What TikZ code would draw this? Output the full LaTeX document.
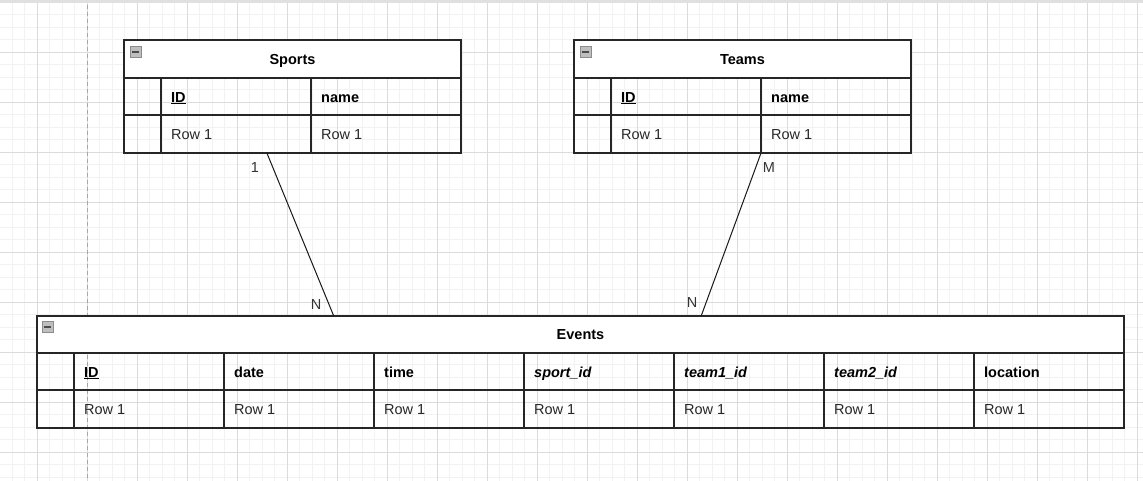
\documentclass[tikz,border=0pt]{standalone}
\usepackage{fontspec}
\setmainfont{Liberation Sans}
\usetikzlibrary{calc}
\usetikzlibrary{positioning}

\tikzset{
  grid minor/.style={draw=black!5, line width=0.8pt},
  grid major/.style={draw=black!14, line width=0.9pt},
  tbl/.style={draw=black!85, line width=1.2pt, inner sep=0pt,
              outer sep=0pt, anchor=north west},
  rule/.style={draw=black!85, line width=1.2pt},
  txt/.style={inner sep=0pt, text height=10.4pt, text depth=0pt,
              font=\fontsize{14.5}{17}\selectfont},
  title/.style={txt, font=\fontsize{14.5}{17}\selectfont\bfseries},
  field/.style={txt, anchor=west, font=\fontsize{14.5}{17}\selectfont\bfseries},
  fkey/.style={field, font=\fontsize{14.5}{17}\selectfont\bfseries\itshape},
  val/.style={txt, anchor=west, text=black!85},
  card/.style={txt, text=black!80},
  link/.style={draw=black!90, line width=1pt},
  collapse/.style={draw=black!45, fill=black!25, minimum size=11pt, inner sep=0pt,
    path picture={\draw[black!70, line width=1.4pt]
      ([xshift=2pt]path picture bounding box.west) --
      ([xshift=-2pt]path picture bounding box.east);}},
}

\begin{document}
\begin{tikzpicture}[x=1pt, y=-1pt]
  \useasboundingbox (0,0) rectangle (1143,481);

  % page grid
  \fill[white] (0,0) rectangle (1143,481);
  \foreach \x in {-0.5,12,...,1143} \draw[grid minor] (\x,0) -- (\x,481);
  \foreach \y in {2,14.5,...,481}   \draw[grid minor] (0,\y) -- (1143,\y);
  \foreach \x in {37,87,...,1137}   \draw[grid major] (\x,0) -- (\x,481);
  \foreach \y in {2,52,...,452}     \draw[grid major] (0,\y) -- (1143,\y);
  \draw[black!12, line width=3pt] (0,1.5) -- (1143,1.5);
  \draw[black!35, line width=0.9pt, dash pattern=on 4pt off 3pt] (87,5) -- (87,481);

  % Sports
  \fill[white] (124,40) rectangle (461,78);
  \node[tbl, minimum width=337pt, minimum height=113pt] (sports) at (124,40) {};
  \draw[rule] (124,78) -- ++(337,0)  (124,115) -- ++(337,0)
              (161,78) -- (161,153)  (311,78) -- (311,153);
  \node[collapse] (sports-min) at (135.5,52) {};
  \node[title] (sports-title) at (292.5,59) {Sports};
  \node[field] (sports-id)   at (171,97) {\underline{ID}};
  \node[field] (sports-name) at (321,97) {name};
  \node[val] (sports-v1) at (171,134) {Row 1};
  \node[val] (sports-v2) at (321,134) {Row 1};

  % Teams
  \fill[white] (574,40) rectangle (911,78);
  \node[tbl, minimum width=337pt, minimum height=113pt] (teams) at (574,40) {};
  \draw[rule] (574,78) -- ++(337,0)  (574,115) -- ++(337,0)
              (611,78) -- (611,153)  (761,78) -- (761,153);
  \node[collapse] (teams-min) at (585.5,52) {};
  \node[title] (teams-title) at (742.5,59) {Teams};
  \node[field] (teams-id)   at (621,97) {\underline{ID}};
  \node[field] (teams-name) at (771,97) {name};
  \node[val] (teams-v1) at (621,134) {Row 1};
  \node[val] (teams-v2) at (771,134) {Row 1};

  % Events
  \fill[white] (37,316) rectangle (1124,353);
  \node[tbl, minimum width=1087pt, minimum height=112pt] (events) at (37,316) {};
  \draw[rule] (37,353) -- ++(1087,0)  (37,390) -- ++(1087,0);
  \foreach \x in {74,224,...,974} \draw[rule] (\x,353) -- (\x,428);
  \node[collapse] (events-min) at (47.5,327) {};
  \node[title] (events-title) at (580.5,334) {Events};
  \foreach \f [count=\i] in {\underline{ID},date,time}
    \node[field] (events-f\i) at ({84+150*(\i-1)},372) {\f};
  \foreach \f [count=\i from 4] in {sport\_id,team1\_id,team2\_id}
    \node[fkey] (events-f\i) at ({84+150*(\i-1)},372) {\f};
  \node[field] (events-f7) at (984,372) {location};
  \foreach \i in {1,...,7}
    \node[val] (events-v\i) at ({84+150*(\i-1)},409) {Row 1};

  % relations
  \draw[link] ($(sports.south west)!0.424!(sports.south east)$)
           -- ($(events.north west)!0.273!(events.north east)$);
  \draw[link] ($(teams.south west)!0.555!(teams.south east)$)
           -- ($(events.north west)!0.611!(events.north east)$);
  \node[card] (c-sports) at (255,167) {1};
  \node[card] (c-ev1)    at (316,304) {N};
  \node[card] (c-teams)  at (769,167) {M};
  \node[card] (c-ev2)    at (692,302) {N};
\end{tikzpicture}
\end{document}
